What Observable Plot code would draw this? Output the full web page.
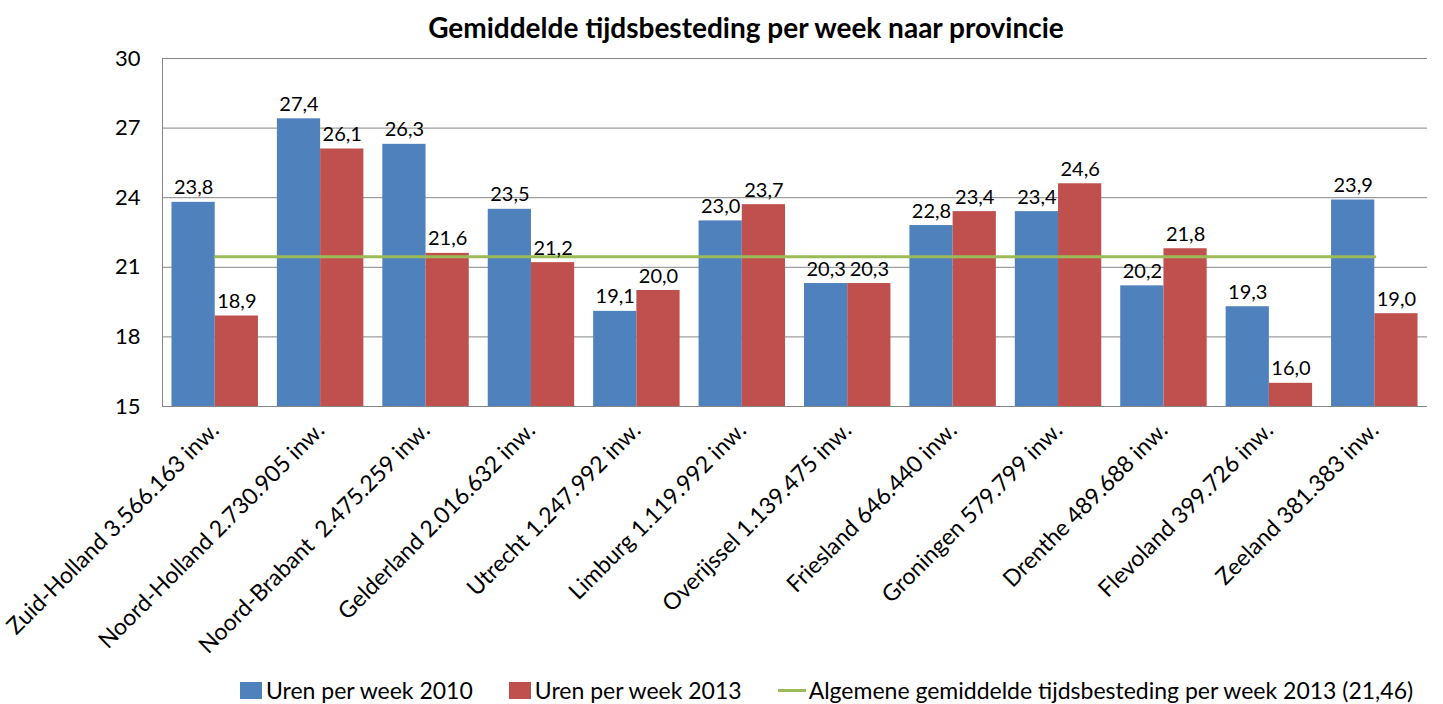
<!DOCTYPE html>
<html>
<head>
<meta charset="utf-8">
<script src="https://cdn.jsdelivr.net/npm/d3@7"></script>
<script src="https://cdn.jsdelivr.net/npm/@observablehq/plot@0.6"></script>
<style>
  body { margin: 0; background: #fff; font-family: Lato, "Noto Sans", sans-serif; }
  #wrap { width: 1443px; height: 704px; overflow: hidden; background: #fff; }
  #title { height: 44px; line-height: 54px; text-align: center; font-weight: bold; font-size: 28px; padding-left: 49px; color: #000; white-space: nowrap; }
  #chart svg text { white-space: pre; }
  #legend { height: 40px; display: flex; align-items: center; padding-left: 240px; font-size: 23px; color: #000; }
  .sw { display: inline-block; width: 22px; height: 17px; margin-right: 4px; }
  .ln { display: inline-block; width: 28px; height: 3px; margin-right: 3px; }
  .item { display: flex; align-items: center; margin-right: 36px; white-space: nowrap; }
</style>
</head>
<body>
<div id="wrap">
  <div id="title"></div>
  <div id="chart"></div>
  <div id="legend"></div>
</div>
<script>
const titleText = "Gemiddelde tijdsbesteding per week naar provincie";
const provinces = [
  "Zuid-Holland 3.566.163 inw.",
  "Noord-Holland 2.730.905 inw.",
  "Noord-Brabant  2.475.259 inw.",
  "Gelderland 2.016.632 inw.",
  "Utrecht 1.247.992 inw.",
  "Limburg 1.119.992 inw.",
  "Overijssel 1.139.475 inw.",
  "Friesland 646.440 inw.",
  "Groningen 579.799 inw.",
  "Drenthe 489.688 inw.",
  "Flevoland 399.726 inw.",
  "Zeeland 381.383 inw."
];
const uren2010 = [23.8, 27.4, 26.3, 23.5, 19.1, 23.0, 20.3, 22.8, 23.4, 20.2, 19.3, 23.9];
const uren2013 = [18.9, 26.1, 21.6, 21.2, 20.0, 23.7, 20.3, 23.4, 24.6, 21.8, 16.0, 19.0];
const gemiddelde2013 = 21.46;
const yTicks = [15, 18, 21, 24, 27, 30];
const seriesNames = ["Uren per week 2010", "Uren per week 2013", "Algemene gemiddelde tijdsbesteding per week 2013 (21,46)"];

const blue = "#4F81BD", red = "#C0504D", green = "#9BBB59", grid = "#868686";
const bw = 0.41;
const indices = provinces.map((_, i) => i);
const rows = indices.map(i => ({ i, v2010: uren2010[i], v2013: uren2013[i] }));
const avgRows = indices.map(i => ({ i, v: gemiddelde2013 }));
const fmt = v => v.toFixed(1).replace(".", ",");
const yMin = yTicks[0];

document.getElementById("title").textContent = titleText;

const chart = Plot.plot({
  width: 1443,
  height: 626,
  marginTop: 14,
  marginBottom: 264,
  marginLeft: 162,
  marginRight: 16,
  style: { fontFamily: "Lato, 'Noto Sans', sans-serif", fontSize: "20px", color: "#000", background: "#fff" },
  x: { type: "linear", domain: [-0.5, provinces.length - 0.5], axis: null },
  y: { domain: [yTicks[0], yTicks[yTicks.length - 1]], axis: null },
  marks: [
    Plot.gridY(yTicks, { stroke: grid, strokeOpacity: 1 }),
    Plot.axisY(yTicks, { tickSize: 0, tickPadding: 22, fontSize: 22, tickFormat: d => String(d), label: null }),
    Plot.rect(rows, { x1: d => d.i - bw, x2: d => d.i, y1: yMin, y2: "v2010", fill: blue }),
    Plot.rect(rows, { x1: d => d.i, x2: d => d.i + bw, y1: yMin, y2: "v2013", fill: red }),
    Plot.ruleY([yMin], { stroke: grid }),
    Plot.ruleX([-0.5], { stroke: grid }),
    Plot.line(avgRows, { x: "i", y: "v", stroke: green, strokeWidth: 3 }),
    Plot.text(rows, { x: d => d.i - bw / 2, y: "v2010", text: d => fmt(d.v2010), dy: -8, lineAnchor: "bottom", fontSize: 20, fill: "#000" }),
    Plot.text(rows, { x: d => d.i + bw / 2, y: "v2013", text: d => fmt(d.v2013), dy: -8, lineAnchor: "bottom", fontSize: 20, fill: "#000" }),
    Plot.axisX(indices, { tickSize: 0, tickPadding: 20, tickRotate: -45, tickFormat: i => provinces[i], fontSize: 23, label: null })
  ]
});
document.getElementById("chart").appendChild(chart);

const legend = document.getElementById("legend");
[[blue, seriesNames[0], "sw"], [red, seriesNames[1], "sw"], [green, seriesNames[2], "ln"]].forEach(([c, t, cls]) => {
  const it = document.createElement("span");
  it.className = "item";
  const s = document.createElement("span");
  s.className = cls;
  s.style.background = c;
  it.appendChild(s);
  it.appendChild(document.createTextNode(t));
  legend.appendChild(it);
});
</script>
</body>
</html>
